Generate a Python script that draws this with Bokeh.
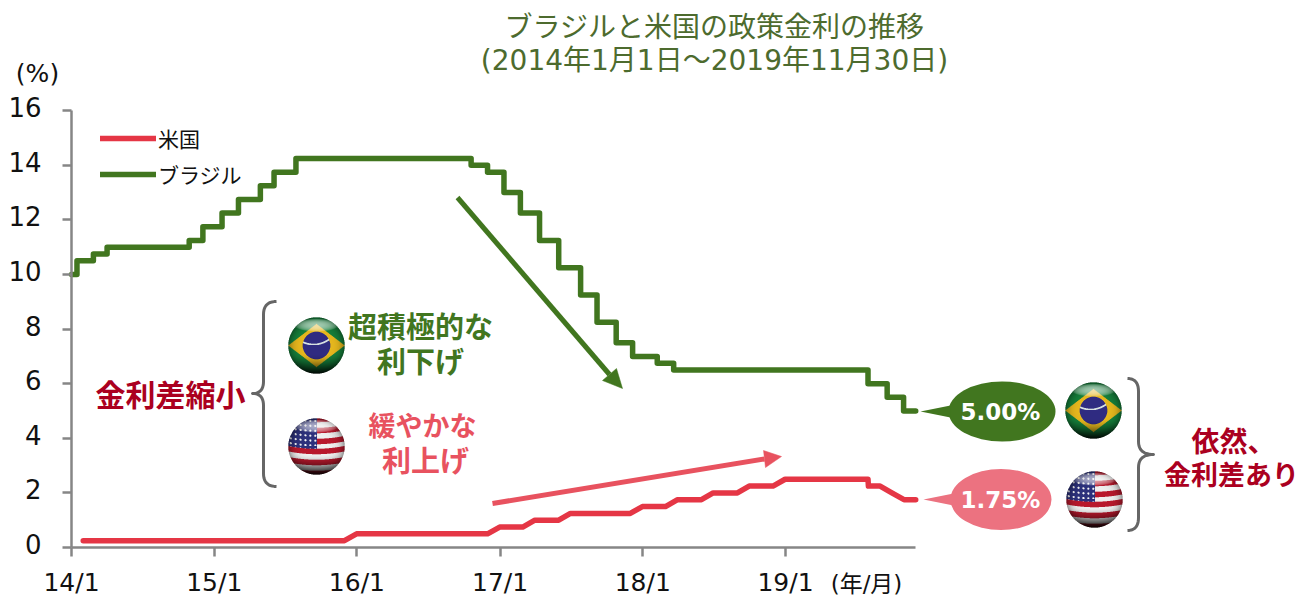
import numpy as np
import pandas as pd
from bokeh.plotting import figure
from bokeh.core.properties import value
from bokeh.embed import file_html
from bokeh.models import Range1d, FixedTicker, Legend, LegendItem
from bokeh.resources import INLINE

# ---- data ----
brazil_dates = ["2014-01-01", "2014-01-15", "2014-02-26", "2014-04-02", "2014-10-29", "2014-12-03",
                "2015-01-21", "2015-03-04", "2015-04-29", "2015-06-03", "2015-07-29", "2016-10-19",
                "2016-11-30", "2017-01-11", "2017-02-22", "2017-04-12", "2017-05-31", "2017-07-26",
                "2017-09-06", "2017-10-25", "2017-12-06", "2018-02-07", "2018-03-21", "2019-07-31",
                "2019-09-18", "2019-10-30", "2019-11-30"]
brazil_rate = [10.0, 10.5, 10.75, 11.0, 11.25, 11.75, 12.25, 12.75, 13.25, 13.75, 14.25, 14.0,
               13.75, 13.0, 12.25, 11.25, 10.25, 9.25, 8.25, 7.5, 7.0, 6.75, 6.5, 6.0, 5.5, 5.0, 5.0]
us_dates = ["2014-01-31", "2015-11-30", "2015-12-31", "2016-11-30", "2016-12-31", "2017-02-28",
            "2017-03-31", "2017-05-31", "2017-06-30", "2017-11-30", "2017-12-31", "2018-02-28",
            "2018-03-31", "2018-05-31", "2018-06-30", "2018-08-31", "2018-09-30", "2018-11-30",
            "2018-12-31", "2019-07-31", "2019-08-01", "2019-08-31", "2019-09-30", "2019-10-31",
            "2019-11-30"]
us_rate = [0.25, 0.25, 0.5, 0.5, 0.75, 0.75, 1.0, 1.0, 1.25, 1.25, 1.5, 1.5, 1.75, 1.75, 2.0, 2.0,
           2.25, 2.25, 2.5, 2.5, 2.25, 2.25, 2.0, 1.75, 1.75]
tick_dates = ["2014-01-01", "2015-01-01", "2016-01-01", "2017-01-01", "2018-01-01", "2019-01-01"]
tick_labels = ["14/1", "15/1", "16/1", "17/1", "18/1", "19/1"]
y_ticks = [0, 2, 4, 6, 8, 10, 12, 14, 16]

GREEN = "#41761F"
RED = "#E53645"
ARROW_RED = "#E8525F"
PINK = "#EC7280"
DARK_RED = "#AB0020"
TITLE = "#4D6B2E"
GREY = "#868686"
BRACE = "#666666"
JP = "DejaVu Sans, Noto Sans CJK JP"


def days(d):
    return (pd.to_datetime(d) - pd.Timestamp("2014-01-01")).days.values.astype(float)


# scale: page pixels <-> data
X0, Y0 = 71.0, 547.0
SX = (785.0 - 71.0) / 1826.0
SY = 27.3


def X(px):
    return (np.asarray(px, dtype=float) - X0) / SX


def Y(py):
    return (Y0 - np.asarray(py, dtype=float)) / SY


p = figure(width=1299, height=598, output_backend="svg", toolbar_location=None,
           x_range=Range1d(float(X(0)), float(X(1299))), y_range=Range1d(float(Y(598)), float(Y(0))),
           min_border=0, outline_line_color=None, background_fill_color="white", border_fill_color="white")
p.grid.visible = False

end_day = float(days(["2019-11-30"])[0])
xa = p.xaxis[0]
xa.fixed_location = 0
xa.bounds = (0, end_day)
xa.ticker = FixedTicker(ticks=[float(v) for v in days(tick_dates)])
xa.major_label_overrides = {float(v): t for v, t in zip(days(tick_dates), tick_labels)}
ya = p.yaxis[0]
ya.fixed_location = 0
ya.bounds = (0, 16)
ya.ticker = FixedTicker(ticks=y_ticks)
ya.major_label_text_font_size = "0px"
ya.major_label_text_color = None
for a in (xa, ya):
    a.axis_line_color = GREY
    a.axis_line_width = 2.5
    a.major_tick_line_color = GREY
    a.major_tick_line_width = 2.5
    a.major_tick_in = 0
    a.major_tick_out = 9
    a.minor_tick_line_color = None
xa.major_label_text_font = "DejaVu Sans"
xa.major_label_text_font_size = "25px"
xa.major_label_text_color = "#111111"
xa.major_label_standoff = 11

# y tick labels sit a little above their ticks in the reference
p.text(x=[float(X(41))] * len(y_ticks), y=y_ticks, text=[str(v) for v in y_ticks], y_offset=-3.5,
       text_font=value("DejaVu Sans"), text_font_size=value("26px"), text_color="#111111",
       text_align="right", text_baseline="middle")

# ---- series ----
r_us = p.line(days(us_dates), us_rate, line_color=RED, line_width=5.5, line_cap="round", line_join="round")
r_br = p.step(days(brazil_dates), brazil_rate, mode="after", line_color=GREEN, line_width=5.5,
              line_cap="round", line_join="round")
leg = Legend(items=[LegendItem(label="米国", renderers=[r_us]), LegendItem(label="ブラジル", renderers=[r_br])],
             location=(100, 409), orientation="vertical", background_fill_alpha=0, border_line_alpha=0,
             glyph_width=56, glyph_height=30, label_standoff=2, spacing=6, padding=0, margin=0,
             label_text_font="Noto Sans CJK JP", label_text_font_size="21px", label_text_color="#111111",
             label_height=30, click_policy="none")
p.add_layout(leg)


def txt(px, py, s, size, color, bold=False, align="center", font=JP):
    p.text(x=[float(X(px))], y=[float(Y(py))], text=[s], text_font=value(font), text_font_size=value(f"{size}px"),
           text_color=color, text_align=align, text_baseline="middle",
           text_font_style="bold" if bold else "normal")


txt(714, 27, "ブラジルと米国の政策金利の推移", 28, TITLE)
txt(714, 60, "(2014年1月1日〜2019年11月30日)", 28, TITLE)
txt(37, 73, "(%)", 25, "#111111")
txt(866, 583, "(年/月)", 23, "#111111")
txt(420, 327, "超積極的な", 29, GREEN, True)
txt(420, 362, "利下げ", 29, GREEN, True)
txt(422, 426, "緩やかな", 27, ARROW_RED, True)
txt(425, 461, "利上げ", 29, ARROW_RED, True)
txt(170, 395, "金利差縮小", 30, DARK_RED, True)
txt(1233, 442, "依然、", 28, DARK_RED, True)
txt(1231, 475, "金利差あり", 27, DARK_RED, True)


def arrow(x0, y0, x1, y1, b1, b2, color, w):
    mx, my = (b1[0] + b2[0]) / 2, (b1[1] + b2[1]) / 2
    p.line(X([x0, mx]), Y([y0, my]), line_color=color, line_width=w)
    p.patch(X([x1, b1[0], b2[0]]), Y([y1, b1[1], b2[1]]), fill_color=color, line_color=color, line_width=0.5)


arrow(457, 197, 622, 388, (602, 380), (616, 368), GREEN, 5)
arrow(492, 503, 781, 456, (763, 450), (765, 467), ARROW_RED, 5)


def path(segments):
    xs, ys = [], []
    for s in segments:
        if len(s) == 2:
            xs.append(s[0]); ys.append(s[1])
        else:
            a, c, b = (xs[-1], ys[-1]), (s[0], s[1]), (s[2], s[3])
            for t in np.linspace(0, 1, 12)[1:]:
                xs.append((1 - t) ** 2 * a[0] + 2 * t * (1 - t) * c[0] + t * t * b[0])
                ys.append((1 - t) ** 2 * a[1] + 2 * t * (1 - t) * c[1] + t * t * b[1])
    return X(xs), Y(ys)


bx, by = path([(276, 301), (263, 301, 263, 314), (263, 381), (263, 393, 252, 393), (263, 393, 263, 405),
               (263, 473), (263, 486, 276, 486)])
p.line(bx, by, line_color=BRACE, line_width=3, line_join="round")
bx, by = path([(1127, 378), (1138, 378, 1138, 391), (1138, 441), (1138, 454, 1153, 454), (1138, 454, 1138, 467),
               (1138, 517), (1138, 530, 1127, 530)])
p.line(bx, by, line_color=BRACE, line_width=3, line_join="round")

# callouts
p.ellipse(x=[float(X(1001.5))], y=[float(Y(411))], width=107 / SX, height=60 / SY, fill_color=GREEN, line_color=None)
p.patch(X([920, 950, 950]), Y([411, 405, 417]), fill_color=GREEN, line_color=None)
p.ellipse(x=[float(X(1000.5))], y=[float(Y(499))], width=101 / SX, height=61 / SY, fill_color=PINK, line_color=None)
p.patch(X([923, 953, 953]), Y([499, 493, 505]), fill_color=PINK, line_color=None)
txt(1000, 411, "5.00%", 23, "white", True, font="DejaVu Sans")
txt(1000, 499, "1.75%", 23, "white", True, font="DejaVu Sans")


# flags as shaded spheres
def flag(kind, n=58):
    c = np.linspace(-1, 1, n * 3)
    u, v = np.meshgrid(c, c)  # v: -1 top, +1 bottom
    r2 = u ** 2 + v ** 2
    rgb = np.zeros(u.shape + (3,))
    if kind == "br":
        rgb[:] = (22, 130, 60)
        rgb[np.abs(u) / 1.02 + np.abs(v) / 0.78 < 1] = (232, 185, 30)
        rgb[u ** 2 + v ** 2 < 0.5 ** 2] = (48, 44, 130)
        band = np.abs(np.sqrt((u + 0.1) ** 2 + (v + 1.0) ** 2) - 0.95) < 0.03
        band &= (u ** 2 + v ** 2 < 0.5 ** 2)
        rgb[band] = (215, 225, 225)
    else:
        rgb[:] = (240, 240, 240)
        sv = v + 0.10 * u ** 2
        idx = np.floor((sv + 1.05) / (2.1 / 11)).astype(int)
        rgb[idx % 2 == 0] = (185, 25, 45)
        canton = (u < 0.03) & (sv < 0.1)
        rgb[canton] = (45, 50, 125)
        gu, gv = (u + 0.06) / 0.17, (sv + 0.05) / 0.17
        star = ((gu - np.round(gu)) ** 2 + (gv - np.round(gv)) ** 2 < 0.05) & canton
        rgb[star] = (245, 245, 245)
    # shading
    shade = 1 - 0.9 * np.clip((v - 0.3) / 0.7, 0, 1) ** 1.5
    shade *= 1 - 0.4 * np.clip(r2, 0, 1) ** 3
    rgb = rgb * shade[..., None]
    gloss = 0.6 * np.clip(1 - (u ** 2 / 0.6 + (v + 0.72) ** 2 / 0.05), 0, 1) ** 0.6
    rgb = rgb * (1 - gloss[..., None]) + 255 * gloss[..., None]
    alpha = (r2 <= 1).astype(float)

    def ds(a):
        return a.reshape(n, 3, n, 3).mean(axis=(1, 3))
    R, G, B, A = ds(rgb[..., 0] * alpha), ds(rgb[..., 1] * alpha), ds(rgb[..., 2] * alpha), ds(alpha)
    safe = np.where(A > 0, A, 1)
    img = np.zeros((n, n), dtype=np.uint32)
    view = img.view(dtype=np.uint8).reshape((n, n, 4))
    view[..., 0] = np.clip(R / safe, 0, 255)
    view[..., 1] = np.clip(G / safe, 0, 255)
    view[..., 2] = np.clip(B / safe, 0, 255)
    view[..., 3] = np.clip(A * 255, 0, 255)
    return img[::-1]


def put(kind, cx, cy):
    r = 28.5
    p.image_rgba(image=[flag(kind)], x=float(X(cx - r)), y=float(Y(cy + r)), dw=2 * r / SX, dh=2 * r / SY)


put("br", 316, 345)
put("us", 316, 446)
put("br", 1093, 410)
put("us", 1094, 499)

open("out.html", "w").write(file_html(p, INLINE))
